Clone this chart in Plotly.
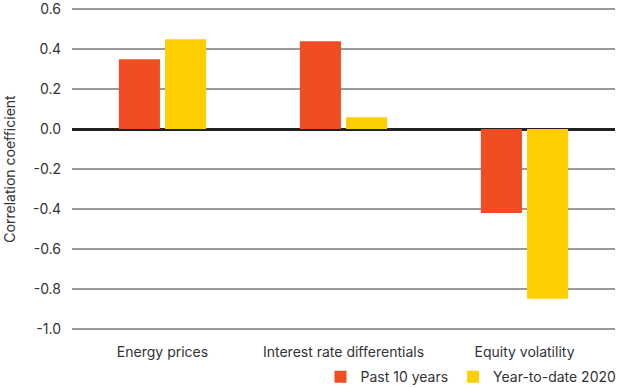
import plotly.graph_objects as go

categories = ["Energy prices", "Interest rate differentials", "Equity volatility"]
past_10_years = [0.35, 0.44, -0.42]
ytd_2020 = [0.45, 0.06, -0.85]
series_names = ["Past 10 years", "Year-to-date 2020"]
y_ticks = [0.6, 0.4, 0.2, 0.0, -0.2, -0.4, -0.6, -0.8, -1.0]
y_tick_labels = ["0.6", "0.4", "0.2", "0.0", "-0.2", "-0.4", "-0.6", "-0.8", "-1.0"]

RED = "#F04D23"
YELLOW = "#FFCE00"
FONT = "Inter, Noto Sans, sans-serif"

fig = go.Figure()
fig.add_trace(go.Bar(x=categories, y=past_10_years, name=series_names[0],
                     marker=dict(color=RED, line=dict(width=0))))
fig.add_trace(go.Bar(x=categories, y=ytd_2020, name=series_names[1],
                     marker=dict(color=YELLOW, line=dict(width=0))))

fig.update_layout(
    width=620, height=388,
    margin=dict(l=72, r=5, t=7, b=57, autoexpand=False),
    paper_bgcolor="white", plot_bgcolor="white",
    barmode="group", bargap=0.49, bargroupgap=0.11,
    font=dict(family=FONT, size=14, color="#333333"),
    showlegend=True,
    legend=dict(orientation="h", x=1.012, xanchor="right",
                yref="container", y=0.028, yanchor="middle",
                font=dict(size=14, color="#333333"),
                traceorder="normal"),
)
fig.update_xaxes(showgrid=False, showline=False, zeroline=False, ticks="",
                 automargin=False,
                 ticklabelstandoff=11, tickfont=dict(size=14, color="#333333"))
fig.update_yaxes(range=[-1.012, 0.612], tickvals=y_ticks, ticktext=y_tick_labels,
                 automargin=False, ticklabeloverflow="allow",
                 showgrid=True, gridcolor="#9a9a9a", gridwidth=1.5,
                 zeroline=True, zerolinecolor="#222222", zerolinewidth=2.5,
                 showline=False, ticks="", ticklabelstandoff=10,
                 tickfont=dict(size=14, color="#333333"),
                 title=dict(text="Correlation coefficient", standoff=14,
                            font=dict(size=14, color="#333333")))

fig.write_html("out.html", config={"displayModeBar": False},
               post_script="document.body.style.margin='0';document.body.style.overflow='hidden';")
